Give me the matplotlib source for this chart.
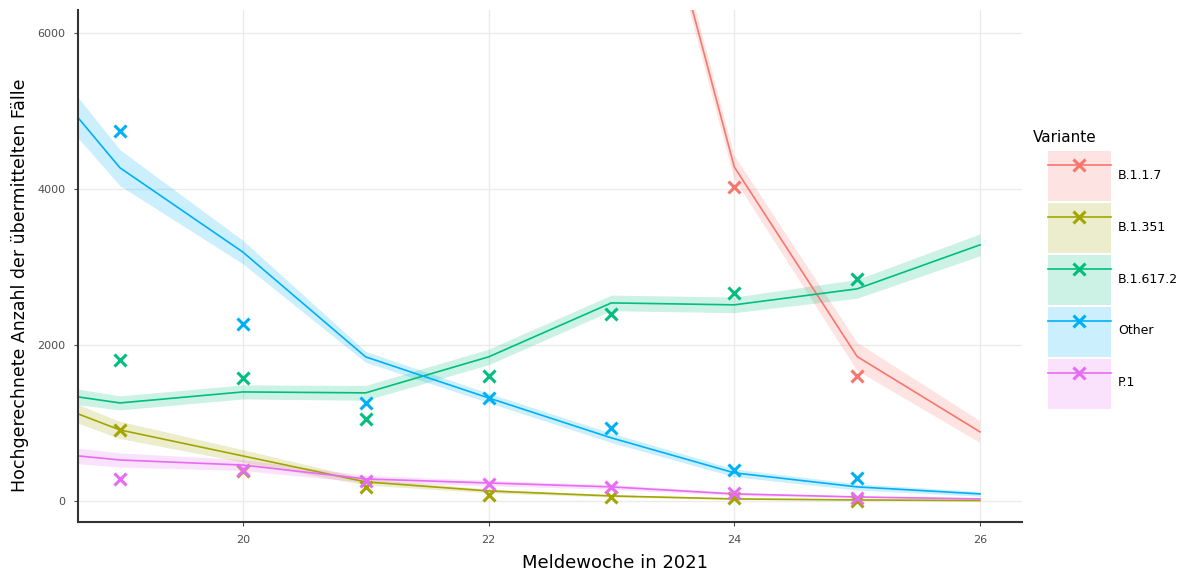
import numpy as np
import matplotlib.pyplot as plt
from matplotlib.patches import Patch
from matplotlib.lines import Line2D
from matplotlib.legend_handler import HandlerTuple

# ------------------------------------------------------------
# DATA
# ------------------------------------------------------------
varianten = ["B.1.1.7", "B.1.351", "B.1.617.2", "Other", "P.1"]
farben = ["#F8766D", "#A3A500", "#00BF7D", "#00B0F6", "#E76BF3"]

# fitted curve support (weeks)
fit_x = [18.66, 19, 20, 21, 22, 23, 24, 25, 26]
fit_b117_x = [23, 24, 25, 26]
fit_b117 = [10200, 4280, 1850, 885]
band_b117 = [150, 150, 180, 140]

fit_b1351 = [1115, 910, 577, 244, 128, 64, 26, 13, 5]
band_b1351 = [120, 110, 80, 40, 25, 15, 8, 5, 3]

fit_b16172 = [1333, 1256, 1397, 1385, 1846, 2538, 2513, 2718, 3282]
band_b16172 = [100, 90, 90, 95, 100, 100, 100, 120, 140]

fit_other = [4910, 4270, 3190, 1846, 1320, 808, 360, 180, 90]
band_other = [260, 230, 150, 70, 60, 60, 50, 40, 30]

fit_p1 = [577, 525, 460, 282, 230, 180, 90, 51, 26]
band_p1 = [100, 90, 70, 45, 35, 30, 20, 12, 8]

# observed weekly values
obs_x = [19, 20, 21, 22, 23, 24, 25]
obs_b117_x = [24, 25]
obs_b117 = [4026, 1603]
obs_b1351 = [910, 380, 180, 77, 51, 38, 0]
obs_b16172 = [1808, 1577, 1051, 1603, 2397, 2667, 2846]
obs_other = [4745, 2270, 1256, 1320, 936, 397, 295]
obs_p1 = [282, 397, 256, 218, 180, 100, 38]

# ------------------------------------------------------------
# PLOT
# ------------------------------------------------------------
fig = plt.figure(figsize=(11.84, 5.73), dpi=100)
ax = fig.add_axes([0.066, 0.089, 0.797, 0.894])

series = [
    (fit_b117_x, fit_b117, band_b117, obs_b117_x, obs_b117),
    (fit_x, fit_b1351, band_b1351, obs_x, obs_b1351),
    (fit_x, fit_b16172, band_b16172, obs_x, obs_b16172),
    (fit_x, fit_other, band_other, obs_x, obs_other),
    (fit_x, fit_p1, band_p1, obs_x, obs_p1),
]

handles = []
for (fx, fy, bw, ox, oy), farbe in zip(series, farben):
    fy = np.array(fy)
    bw = np.array(bw)
    ax.fill_between(fx, fy - bw, fy + bw, color=farbe, alpha=0.2, lw=0)
    ax.plot(fx, fy, color=farbe, lw=1.2)
    ax.plot(ox, oy, ls="none", marker="x", ms=9, mew=2.2, color=farbe)
    handles.append((Patch(facecolor=farbe, alpha=0.2, edgecolor="none"),
                    Line2D([], [], color=farbe, lw=1.2, marker="x", ms=9, mew=2.2)))

ax.set_xlim(18.66, 26.34)
ax.set_ylim(-270, 6295)
ax.set_xticks([20, 22, 24, 26])
ax.set_yticks([0, 2000, 4000, 6000])
ax.grid(color="#EBEBEB", lw=1)
ax.set_axisbelow(True)
for s in ["top", "right"]:
    ax.spines[s].set_visible(False)
for s in ["left", "bottom"]:
    ax.spines[s].set_color("#333333")
    ax.spines[s].set_linewidth(1.5)
ax.tick_params(labelsize=8, colors="#4D4D4D", length=3, pad=6)

ax.set_xlabel("Meldewoche in 2021", fontsize=13)
ax.xaxis.set_label_coords(0.569, -0.062)
ax.set_ylabel("Hochgerechnete Anzahl der übermittelten Fälle", fontsize=12.5)
ax.yaxis.set_label_coords(-0.052, 0.463)

fig.text(1033 / 1184, 1 - 138 / 573, "Variante", fontsize=11, va="center", ha="left")
leg = fig.legend(handles, varianten,
                 handler_map={tuple: HandlerTuple(ndivide=1, pad=0)},
                 loc="upper left", bbox_to_anchor=(1048 / 1184, 1 - 151 / 573),
                 frameon=False, fontsize=9,
                 handlelength=5.0, handleheight=5.78, labelspacing=0.15,
                 handletextpad=0.6, borderpad=0, borderaxespad=0)

fig.savefig("out.png", dpi=100)
